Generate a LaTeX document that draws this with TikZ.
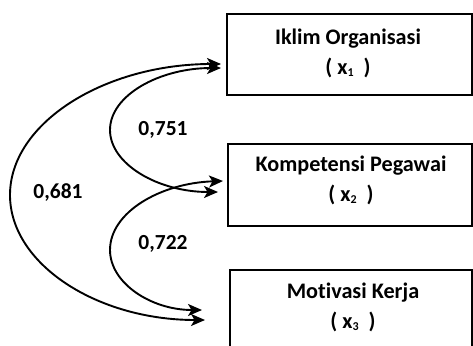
\documentclass[tikz,border=0pt]{standalone}
\usepackage{fontspec}
\setmainfont[Ligatures=NoCommon]{Carlito}
\usetikzlibrary{arrows.meta}
\newcommand{\subidx}[1]{\raisebox{-2.5pt}{\fontsize{12}{12}\selectfont #1}}
\begin{document}
\begin{tikzpicture}[x=1pt,y=-1pt,
  box/.style={draw, line width=2.4pt, inner sep=0pt},
  lbl/.style={font=\fontsize{22.2}{30}\selectfont\bfseries, align=center, inner sep=0pt},
  num/.style={font=\fontsize{21.5}{25}\selectfont\bfseries, inner sep=0pt},
  tip/.style={Stealth[length=14pt,width=12pt,inset=3.5pt]},
  conn/.style={line width=1.9pt, {Stealth[length=14pt,width=12pt,inset=3.5pt]}-{Stealth[length=14pt,width=12pt,inset=3.5pt]}}]
\useasboundingbox (0,0) rectangle (473,345);
\clip (0,0) rectangle (473,345);
% boxes
\node[box, minimum width=245pt, minimum height=81pt] (b1) at (349.5,54.5) {};
\node[box, minimum width=244pt, minimum height=82pt] (b2) at (350,185) {};
\node[box, minimum width=242pt, minimum height=110pt] (b3) at (351,325) {};
% texts
\node[lbl] (t1) at (348,53) {Iklim Organisasi\\( x\subidx{1}~ )};
\node[lbl] (t2) at (351,180) {Kompetensi Pegawai\\( x\subidx{2}~ )};
\node[lbl] (t3) at (353,307) {Motivasi Kerja\\( x\subidx{3}~ )};
% connector ends
\coordinate (o1) at (221,64);
\coordinate (o3) at (205,320);
\coordinate (ol) at (10,195);
\coordinate (p1) at (221,68);
\coordinate (p2) at (218,192);
\coordinate (pl) at (110,130);
\coordinate (q2) at (223,181);
\coordinate (q3) at (202,310);
\coordinate (ql) at (110,250);
% connectors
\draw[conn] (o1) .. controls (104.5,64) and (10,123) .. (ol) .. controls (10,264) and (97,320) .. (o3);
\draw[conn] (p1) .. controls (160,68) and (110,95) .. (pl) .. controls (110,164) and (158,192) .. (p2);
\draw[conn] (q2) .. controls (161,183) and (110,212) .. (ql) .. controls (110,283) and (151,310) .. (q3);
% labels
\node[num] (l751) at (163,130) {0,751};
\node[num] (l681) at (58,193) {0,681};
\node[num] (l722) at (163,244) {0,722};
\end{tikzpicture}
\end{document}
